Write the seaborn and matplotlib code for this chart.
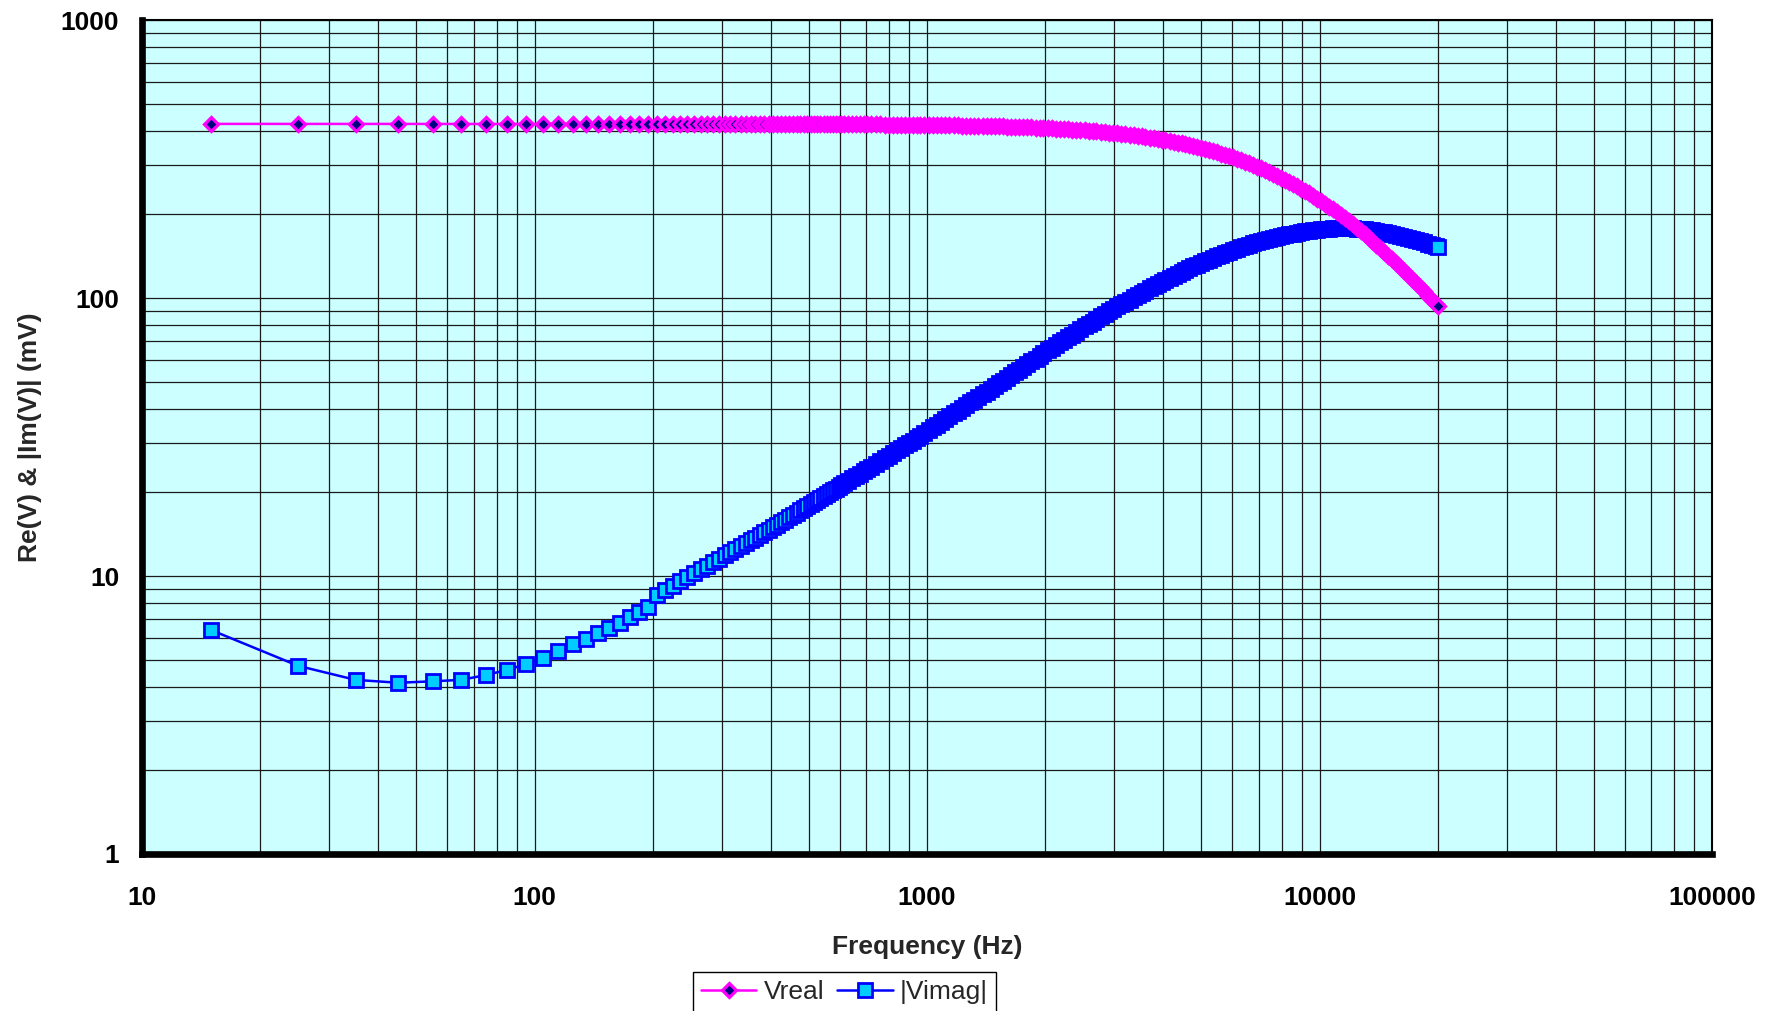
import matplotlib
matplotlib.use("Agg")
import matplotlib.pyplot as plt
from matplotlib.ticker import LogLocator, NullFormatter
import seaborn as sns

# ============================================
# DATA
# ============================================
# measurement frequencies (Hz): 10 Hz steps up to 600 Hz, then denser log steps
freq_hz = [
    15, 25, 35, 45, 55, 65, 75, 85, 95, 105,
    115, 125, 135, 145, 155, 165, 175, 185, 195, 205,
    215, 225, 235, 245, 255, 265, 275, 285, 295, 305,
    315, 325, 335, 345, 355, 365, 375, 385, 395, 405,
    415, 425, 435, 445, 455, 465, 475, 485, 495, 505,
    515, 525, 535, 545, 555, 565, 575, 585, 595,
    605, 615, 630, 645, 660, 675, 690, 705, 720, 740,
    760, 780, 800, 820, 840, 860, 880, 900, 920, 940,
    960, 985, 1010, 1035, 1060, 1085, 1110, 1140, 1170, 1200,
    1230, 1260, 1290, 1320, 1350, 1385, 1420, 1455, 1490, 1525,
    1560, 1600, 1640, 1680, 1720, 1760, 1800, 1845, 1890, 1935,
    1980, 2030, 2080, 2130, 2180, 2230, 2280, 2340, 2400, 2460,
    2520, 2580, 2640, 2700, 2770, 2840, 2910, 2980, 3050, 3120,
    3200, 3280, 3360, 3440, 3520, 3600, 3690, 3780, 3870, 3960,
    4050, 4150, 4250, 4350, 4450, 4550, 4660, 4770, 4880, 5000,
    5120, 5240, 5360, 5490, 5620, 5750, 5890, 6030, 6170, 6320,
    6470, 6620, 6780, 6940, 7100, 7270, 7440, 7620, 7800, 7980,
    8170, 8360, 8560, 8760, 8970, 9180, 9400, 9620, 9850, 10080,
    10320, 10560, 10810, 11060, 11320, 11590, 11860, 12140, 12430, 12720,
    13020, 13330, 13640, 13960, 14290, 14630, 14970, 15320, 15680, 16050,
    16430, 16820, 17210, 17620, 18030, 18460, 18890, 19330, 19790, 20015,
]

# real part of V (mV)
vreal_mv = [
    423.0, 423.0, 423.0, 423.0, 423.0, 423.0, 423.0, 423.0, 423.0, 423.0,
    423.0, 423.0, 423.0, 423.0, 423.0, 423.0, 423.0, 423.0, 423.0, 422.8,
    422.8, 422.8, 422.8, 422.7, 422.7, 422.7, 422.7, 422.7, 422.7, 422.6,
    422.6, 422.6, 422.6, 422.5, 422.5, 422.5, 422.4, 422.4, 422.4, 422.4,
    422.4, 422.3, 422.3, 422.3, 422.2, 422.2, 422.2, 422.1, 422.1, 422.1,
    422.0, 422.0, 421.9, 421.9, 421.8, 421.8, 421.8, 421.7, 421.7,
    421.7, 421.6, 421.5, 421.5, 421.4, 421.3, 421.2, 421.2, 421.1, 421.0,
    420.9, 420.7, 420.6, 420.5, 420.4, 420.3, 420.1, 420.0, 419.9, 419.7,
    419.6, 419.4, 419.2, 419.0, 418.9, 418.7, 418.5, 418.2, 418.0, 417.7,
    417.4, 417.2, 416.9, 416.6, 416.3, 416.0, 415.6, 415.2, 414.9, 414.5,
    414.1, 413.7, 413.2, 412.7, 412.2, 411.8, 411.3, 410.7, 410.1, 409.5,
    408.9, 408.2, 407.5, 406.7, 406.0, 405.2, 404.5, 403.5, 402.6, 401.6,
    400.6, 399.6, 398.5, 397.5, 396.2, 394.9, 393.6, 392.3, 390.9, 389.6,
    388.0, 386.4, 384.7, 383.0, 381.3, 379.6, 377.7, 375.7, 373.7, 371.6,
    369.6, 367.2, 364.9, 362.5, 360.1, 357.7, 355.0, 352.3, 349.6, 346.6,
    343.6, 340.6, 337.5, 334.2, 330.9, 327.5, 323.9, 320.3, 316.7, 312.8,
    309.0, 305.1, 301.0, 296.9, 292.8, 288.5, 284.3, 279.8, 275.3, 270.9,
    266.3, 261.7, 257.0, 252.3, 247.5, 242.7, 237.8, 232.9, 228.0, 223.1,
    218.2, 213.3, 208.4, 203.5, 198.6, 193.6, 188.8, 184.0, 179.1, 174.3,
    169.6, 164.8, 160.2, 155.6, 151.1, 146.5, 142.1, 137.8, 133.5, 129.3,
    125.2, 121.1, 117.1, 113.2, 109.4, 105.6, 102.0, 98.5, 95.0, 93.3,
]

# magnitude of the imaginary part of V (mV)
vimag_mv = [
    6.39, 4.75, 4.23, 4.13, 4.18, 4.23, 4.40, 4.59, 4.82, 5.07,
    5.39, 5.69, 5.95, 6.22, 6.51, 6.76, 7.10, 7.42, 7.76, 8.54,
    8.88, 9.23, 9.57, 9.90, 10.24, 10.57, 10.90, 11.23, 11.55, 11.86,
    12.18, 12.49, 12.81, 13.12, 13.43, 13.74, 14.05, 14.36, 14.66, 14.96,
    15.29, 15.61, 15.93, 16.26, 16.58, 16.90, 17.22, 17.54, 17.85, 18.16,
    18.47, 18.78, 19.09, 19.40, 19.71, 20.02, 20.33, 20.63, 20.94,
    21.25, 21.55, 21.99, 22.45, 22.90, 23.35, 23.79, 24.25, 24.70, 25.31,
    25.91, 26.51, 27.10, 27.70, 28.30, 28.90, 29.50, 30.10, 30.72, 31.34,
    31.96, 32.74, 33.51, 34.29, 35.06, 35.83, 36.60, 37.53, 38.45, 39.37,
    40.29, 41.21, 42.12, 43.04, 43.95, 45.02, 46.08, 47.14, 48.20, 49.28,
    50.36, 51.60, 52.84, 54.07, 55.31, 56.54, 57.78, 59.16, 60.55, 61.93,
    63.31, 64.88, 66.34, 67.80, 69.25, 70.70, 72.15, 73.89, 75.62, 77.35,
    79.05, 80.68, 82.31, 83.94, 85.83, 87.71, 89.59, 91.46, 93.22, 94.91,
    96.84, 98.76, 100.67, 102.57, 104.45, 106.22, 108.21, 110.18, 112.14, 114.09,
    116.02, 118.05, 120.06, 122.06, 124.04, 125.92, 127.92, 129.90, 131.87, 134.00,
    135.79, 137.56, 139.32, 141.20, 143.07, 144.91, 146.87, 148.84, 150.42, 152.09,
    153.74, 155.37, 157.09, 158.78, 160.34, 161.75, 163.14, 164.59, 166.01, 167.42,
    168.45, 169.50, 170.59, 171.65, 172.76, 173.65, 174.43, 175.20, 175.99, 176.66,
    177.11, 177.56, 178.02, 178.30, 178.40, 178.40, 178.30, 178.10, 177.70, 177.40,
    177.00, 176.16, 175.39, 174.62, 173.46, 172.29, 171.14, 169.85, 168.59, 167.32,
    165.95, 164.59, 163.20, 161.67, 160.19, 158.57, 157.01, 155.39, 153.76, 152.95,
]

x_ticks = [10, 100, 1000, 10000, 100000]
x_tick_labels = ["10", "100", "1000", "10000", "100000"]
y_ticks = [1, 10, 100, 1000]
y_tick_labels = ["1", "10", "100", "1000"]
minor_subs = [2, 3, 4, 5, 6, 7, 8, 9]

# ============================================
# STYLE
# ============================================
sns.set_style("white")
plt.rcParams["font.family"] = ["Liberation Sans", "DejaVu Sans"]

fig = plt.figure(figsize=(17.78, 10.11), dpi=100)
ax = fig.add_axes([0.0799, 0.1553, 0.8830, 0.8249])
ax.set_facecolor("#CCFFFF")
ax.set_xscale("log")
ax.set_yscale("log")

# ============================================
# PLOT
# ============================================
# the markers above 600 Hz pile up so tightly in the original that only
# their outline colour shows; those are drawn with a solid fill
dense = freq_hz.index(605)
last = len(freq_hz) - 1


def draw_series(values, label, line_col, face_col, marker, size, edge_w, z):
    # line + open markers for the sparse low-frequency part
    sns.lineplot(x=freq_hz, y=values, ax=ax, errorbar=None, label=label,
                 color=line_col, linewidth=1.8, marker=marker,
                 markersize=size, markerfacecolor=face_col,
                 markeredgecolor=line_col, markeredgewidth=edge_w,
                 markevery=list(range(dense)), zorder=z)
    # overlapping markers in the dense part
    sns.lineplot(x=freq_hz[dense:last], y=values[dense:last], ax=ax,
                 errorbar=None, color=line_col, linestyle="none",
                 marker=marker, markersize=size, markerfacecolor=line_col,
                 markeredgecolor=line_col, markeredgewidth=edge_w,
                 zorder=z + 0.1)
    # final point sits on top of the pile
    sns.lineplot(x=freq_hz[last:], y=values[last:], ax=ax, errorbar=None,
                 color=line_col, linestyle="none", marker=marker,
                 markersize=size, markerfacecolor=face_col,
                 markeredgecolor=line_col, markeredgewidth=edge_w,
                 zorder=z + 0.2)


draw_series(vimag_mv, "|Vimag|", "#0000FF", "#00CCFF", "s", 9.6, 2.0, 3)
draw_series(vreal_mv, "Vreal", "#FF00FF", "#000080", "D", 6.9, 2.3, 4)

ax.set_xlim(10, 100000)
ax.set_ylim(1, 1000)

# ticks
ax.set_xticks(x_ticks, x_tick_labels)
ax.set_yticks(y_ticks, y_tick_labels)
ax.xaxis.set_minor_locator(LogLocator(base=10, subs=minor_subs, numticks=50))
ax.yaxis.set_minor_locator(LogLocator(base=10, subs=minor_subs, numticks=50))
ax.xaxis.set_minor_formatter(NullFormatter())
ax.yaxis.set_minor_formatter(NullFormatter())
ax.tick_params(which="major", direction="out", length=8, width=4.8,
               color="black", labelsize=19, labelcolor="black")
ax.tick_params(axis="x", which="major", pad=15)
ax.tick_params(axis="y", which="major", pad=8.5)
ax.tick_params(which="minor", length=0)
for lbl in ax.get_xticklabels() + ax.get_yticklabels():
    lbl.set_fontweight("bold")

# grid
ax.grid(True, which="both", color="#1a1a1a", linewidth=0.9)
ax.set_axisbelow(True)

# spines
for side in ["left", "bottom"]:
    ax.spines[side].set_linewidth(4.8)
    ax.spines[side].set_color("black")
for side in ["top", "right"]:
    ax.spines[side].set_linewidth(1.5)
    ax.spines[side].set_color("black")

# axis labels
ax.set_xlabel("Frequency (Hz)", fontsize=19, fontweight="bold")
ax.xaxis.set_label_coords(0.5, -0.097)
ax.set_ylabel("Re(V) & |Im(V)| (mV)", fontsize=19, fontweight="bold")
ax.yaxis.set_label_coords(-0.0637, 0.5)

# legend below the plot (Vreal first, as in the original)
handles, labels = ax.get_legend_handles_labels()
if ax.get_legend() is not None:
    ax.get_legend().remove()
order = [labels.index("Vreal"), labels.index("|Vimag|")]
leg = fig.legend([handles[i] for i in order], [labels[i] for i in order],
                 loc="upper left",
                 bbox_to_anchor=(693 / 1778, 1 - 972 / 1011),
                 bbox_transform=fig.transFigure, ncol=2, frameon=True,
                 fancybox=False, framealpha=1, edgecolor="black",
                 fontsize=19, handlelength=2.1, handletextpad=0.27,
                 columnspacing=0.5, borderpad=0.3, borderaxespad=0)
leg.get_frame().set_linewidth(1.0)

fig.savefig("out.png", dpi=100)
